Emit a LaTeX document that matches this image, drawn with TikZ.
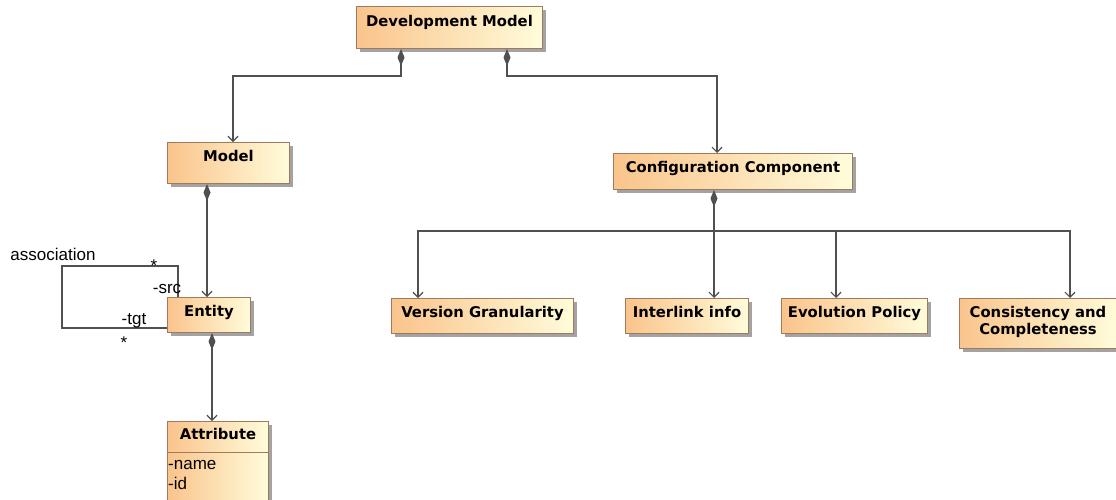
\documentclass[tikz,border=0pt]{standalone}
\usepackage{fontspec}
\setmainfont{Liberation Sans}
\newfontfamily\boxfont{DejaVu Sans}
\usetikzlibrary{arrows.meta,shadows}
\definecolor{boxL}{RGB}{250,196,140}
\definecolor{boxR}{RGB}{255,252,218}
\definecolor{boxB}{RGB}{160,122,92}
\definecolor{lineC}{RGB}{80,80,80}
\tikzset{
  umlbox/.style={draw=boxB, line width=1pt, left color=boxL, right color=boxR,
    drop shadow={shadow xshift=3pt, shadow yshift=-3pt, fill=black!45, opacity=0.8},
    inner sep=0pt, anchor=north west},
  ttl/.style={font=\boxfont\bfseries\fontsize{14.8}{17}\selectfont, inner sep=0pt, align=center, text=black},
  one/.style={text height=10.8pt, text depth=3pt},
  conn/.style={draw=lineC, line width=1.2pt},
  comp/.style={conn, {Diamond[length=17pt,width=7pt,fill=lineC]}-{Straight Barb[length=5pt,width=10pt]}},
  arr/.style={conn, -{Straight Barb[length=5pt,width=10pt]}},
  lbl/.style={font=\fontsize{17}{19}\selectfont, inner sep=0pt}
}
\begin{document}
\begin{tikzpicture}[x=1pt,y=-1pt]
\useasboundingbox (0,0) rectangle (1116,499);
% boxes
\node[umlbox, minimum width=186pt, minimum height=42pt] (dm) at (356,6) {};
\node[ttl, one] (dmt) at ([yshift=-16.5pt]dm.north) {Development Model};
\node[umlbox, minimum width=122pt, minimum height=41pt] (model) at (167,142) {};
\node[ttl, one] (modelt) at ([yshift=-15.5pt]model.north) {Model};
\node[umlbox, minimum width=239pt, minimum height=36pt] (cc) at (613,153) {};
\node[ttl, one] (cct) at ([yshift=-16pt]cc.north) {Configuration Component};
\node[umlbox, minimum width=83pt, minimum height=35pt] (entity) at (167,297) {};
\node[ttl, one] (entityt) at ([yshift=-15.5pt]entity.north) {Entity};
\node[umlbox, minimum width=101pt, minimum height=100pt] (attr) at (167,421) {};
\node[ttl, one] (attrt) at ([yshift=-15pt]attr.north) {Attribute};
\draw[draw=boxB, line width=1pt] ([yshift=-31pt]attr.north west) -- ([yshift=-31pt]attr.north east);
\node[lbl, anchor=west] (an) at (168,465) {-name};
\node[lbl, anchor=west] (ai) at (168,483) {-id};
\node[umlbox, minimum width=182pt, minimum height=35pt] (vg) at (391,298) {};
\node[ttl, one] (vgt) at ([yshift=-16pt]vg.north) {Version Granularity};
\node[umlbox, minimum width=123pt, minimum height=35pt] (ii) at (625,298) {};
\node[ttl, one] (iit) at ([yshift=-16pt]ii.north) {Interlink info};
\node[umlbox, minimum width=146pt, minimum height=35pt] (ep) at (781,298) {};
\node[ttl, one] (ept) at ([yshift=-16pt]ep.north) {Evolution Policy};
\node[umlbox, minimum width=157pt, minimum height=50pt] (cm) at (959,298) {};
\node[ttl] (cmt) at ([yshift=-24pt]cm.north) {Consistency and\\Completeness};
% connectors
\draw[comp] ([xshift=45pt]dm.south west) -- ++(0,27) -| ([xshift=66pt]model.north west);
\draw[comp] ([xshift=151pt]dm.south west) -- ++(0,27) -| ([xshift=104pt]cc.north west);
\draw[comp] ([xshift=40pt]model.south west) -- ([xshift=40pt]entity.north west);
\draw[comp] ([xshift=45pt]entity.south west) -- ([xshift=45pt]attr.north west);
\draw[comp] ([xshift=101pt]cc.south west) -- ([xshift=89pt]ii.north west);
\coordinate (j) at (714,231);
\draw[arr] (j) -| ([xshift=27pt]vg.north west);
\draw[arr] (j) -| ([xshift=55pt]ep.north west);
\draw[arr] (j) -| ([xshift=111pt]cm.north west);
% self association
\coordinate (lp) at (62,328);
\draw[conn] ([xshift=11pt]entity.north west) -- ++(0,-31) -| (lp) -- ([yshift=-31pt]entity.north west);
\node[lbl] (assoc) at (53,254) {association};
\node[lbl] (m1) at (154,266) {*};
\node[lbl] (src) at (167,289) {-src};
\node[lbl] (tgt) at (134,321) {-tgt};
\node[lbl] (m2) at (124,343) {*};
\end{tikzpicture}
\end{document}
